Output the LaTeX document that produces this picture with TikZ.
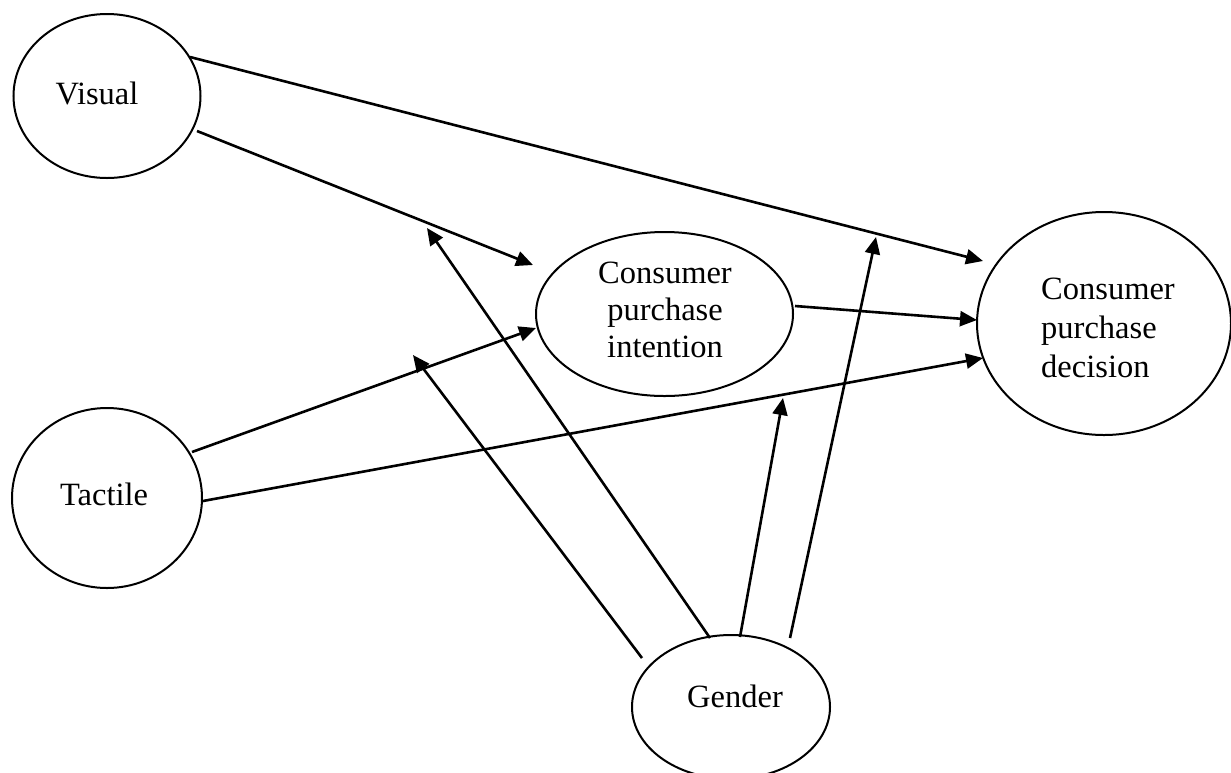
\documentclass[tikz,border=0pt]{standalone}
\usepackage{fontspec}
\setmainfont{Liberation Serif}
\usetikzlibrary{shapes.geometric,arrows.meta}
\begin{document}
\begin{tikzpicture}[x=1pt,y=-1pt,
  oval/.style={ellipse,draw,line width=2pt,inner sep=0pt},
  lbl/.style={font=\fontsize{32.5}{37}\selectfont,inner sep=0pt},
  conn/.style={line width=2.6pt,-{Triangle[length=17pt,width=15pt]}}]
\useasboundingbox (0,0) rectangle (1231,772);
% ellipses
\node[oval,minimum width=187pt,minimum height=164pt] (visual) at (107,96) {};
\node[oval,minimum width=190pt,minimum height=180pt] (tactile) at (107,498) {};
\node[oval,minimum width=257pt,minimum height=164pt] (intention) at (664.5,314) {};
\node[oval,minimum width=254pt,minimum height=223pt] (decision) at (1104,323.5) {};
\node[oval,minimum width=198pt,minimum height=144pt] (gender) at (731,707) {};
% texts
\node[lbl,anchor=base] (tvis) at (97,104) {Visual};
\node[lbl,anchor=base] (ttac) at (104,505) {Tactile};
\node[lbl,anchor=base] (tint1) at (665,283) {Consumer};
\node[lbl,anchor=base] (tint2) at (665,320) {purchase};
\node[lbl,anchor=base] (tint3) at (665,357) {intention};
\node[lbl,anchor=base west] (tdec1) at (1041,299) {Consumer};
\node[lbl,anchor=base west] (tdec2) at (1041,338) {purchase};
\node[lbl,anchor=base west] (tdec3) at (1041,377) {decision};
\node[lbl,anchor=base] (tgen) at (735,707) {Gender};
% connector end points
\coordinate (v1) at (190,57);
\coordinate (v2) at (197,131);
\coordinate (t1) at (192,452);
\coordinate (t2) at (203,501);
\coordinate (i1) at (795,306);
\coordinate (g1) at (642,658);
\coordinate (g2) at (710,638);
\coordinate (g3) at (740,637);
\coordinate (g4) at (790,638);
\coordinate (d1) at (983,261);
\coordinate (i2) at (533,265);
\coordinate (i3) at (536,328);
\coordinate (d2) at (983,358);
\coordinate (d3) at (977,320);
\coordinate (m1) at (427,228);
\coordinate (m2) at (413,355);
\coordinate (m3) at (783,398);
\coordinate (m4) at (876,237);
% connectors
\draw[conn] (v1) -- (d1);
\draw[conn] (v2) -- (i2);
\draw[conn] (t1) -- (i3);
\draw[conn] (t2) -- (d2);
\draw[conn] (i1) -- (d3);
\draw[conn] (g2) -- (m1);
\draw[conn] (g1) -- (m2);
\draw[conn] (g3) -- (m3);
\draw[conn] (g4) -- (m4);
\end{tikzpicture}
\end{document}
